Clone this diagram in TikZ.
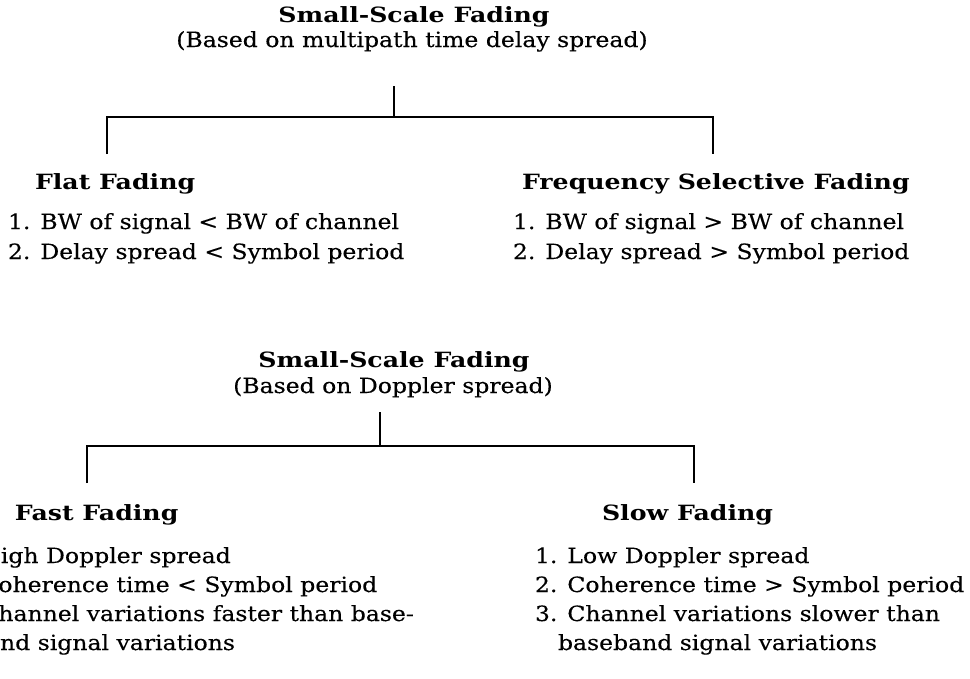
\documentclass[tikz,border=0pt]{standalone}
\usepackage{fontspec}
\setmainfont{DejaVu Serif}[FakeStretch=1.12, FakeBold=0.25]
\newfontfamily\headfont{DejaVu Serif Bold}[FakeStretch=1.2]
\begin{document}
\begin{tikzpicture}[x=1pt,y=-1pt,
  txt/.style={inner sep=0pt, outer sep=0pt, font=\fontsize{21}{25}\selectfont},
  head/.style={inner sep=0pt, outer sep=0pt, font=\fontsize{21}{25}\selectfont\headfont},
  lin/.style={line width=1.6pt, black}]
\useasboundingbox (0,0) rectangle (970,678);
\fill[white] (0,0) rectangle (970,678);
\clip (0,0) rectangle (970,678);

% ---------- top tree ----------
\node[head, anchor=base] (t1) at (414,22) {Small-Scale Fading};
\node[txt, anchor=base] (s1) at (412,47) {(Based on multipath time delay spread)};
\coordinate (a1) at (394,86);
\coordinate (j1) at (394,117);
\coordinate (dl1) at (107,154);
\coordinate (dr1) at (713,154);
\draw[lin] (a1) -- (j1);
\draw[lin] (dl1) -- (dl1 |- j1) -- (dr1 |- j1) -- (dr1);

\node[head, anchor=base west] (ff) at (35,189) {Flat Fading};
\node[txt, anchor=base west] (ff1) at (8,229) {1. BW of signal < BW of channel};
\node[txt, anchor=base west] (ff2) at (8,259) {2. Delay spread < Symbol period};

\node[head, anchor=base west] (fs) at (522,189) {Frequency Selective Fading};
\node[txt, anchor=base west] (fs1) at (513,229) {1. BW of signal > BW of channel};
\node[txt, anchor=base west] (fs2) at (513,259) {2. Delay spread > Symbol period};

% ---------- bottom tree ----------
\node[head, anchor=base] (t2) at (394,367) {Small-Scale Fading};
\node[txt, anchor=base] (s2) at (393,393) {(Based on Doppler spread)};
\coordinate (a2) at (380,412);
\coordinate (j2) at (380,446);
\coordinate (dl2) at (87,483);
\coordinate (dr2) at (694,483);
\draw[lin] (a2) -- (j2);
\draw[lin] (dl2) -- (dl2 |- j2) -- (dr2 |- j2) -- (dr2);

\node[head, anchor=base west] (fa) at (15,520) {Fast Fading};
\node[txt, anchor=base west] (fa1) at (-52,563) {1. High Doppler spread};
\node[txt, anchor=base west] (fa2) at (-52,592) {2. Coherence time < Symbol period};
\node[txt, anchor=base west] (fa3) at (-52,621) {3. Channel variations faster than base-};
\node[txt, anchor=base west] (fa4) at (-29,650) {band signal variations};

\node[head, anchor=base west] (sl) at (602,520) {Slow Fading};
\node[txt, anchor=base west] (sl1) at (535,563) {1. Low Doppler spread};
\node[txt, anchor=base west] (sl2) at (535,592) {2. Coherence time > Symbol period};
\node[txt, anchor=base west] (sl3) at (535,621) {3. Channel variations slower than};
\node[txt, anchor=base west] (sl4) at (558,650) {baseband signal variations};
\end{tikzpicture}
\end{document}
